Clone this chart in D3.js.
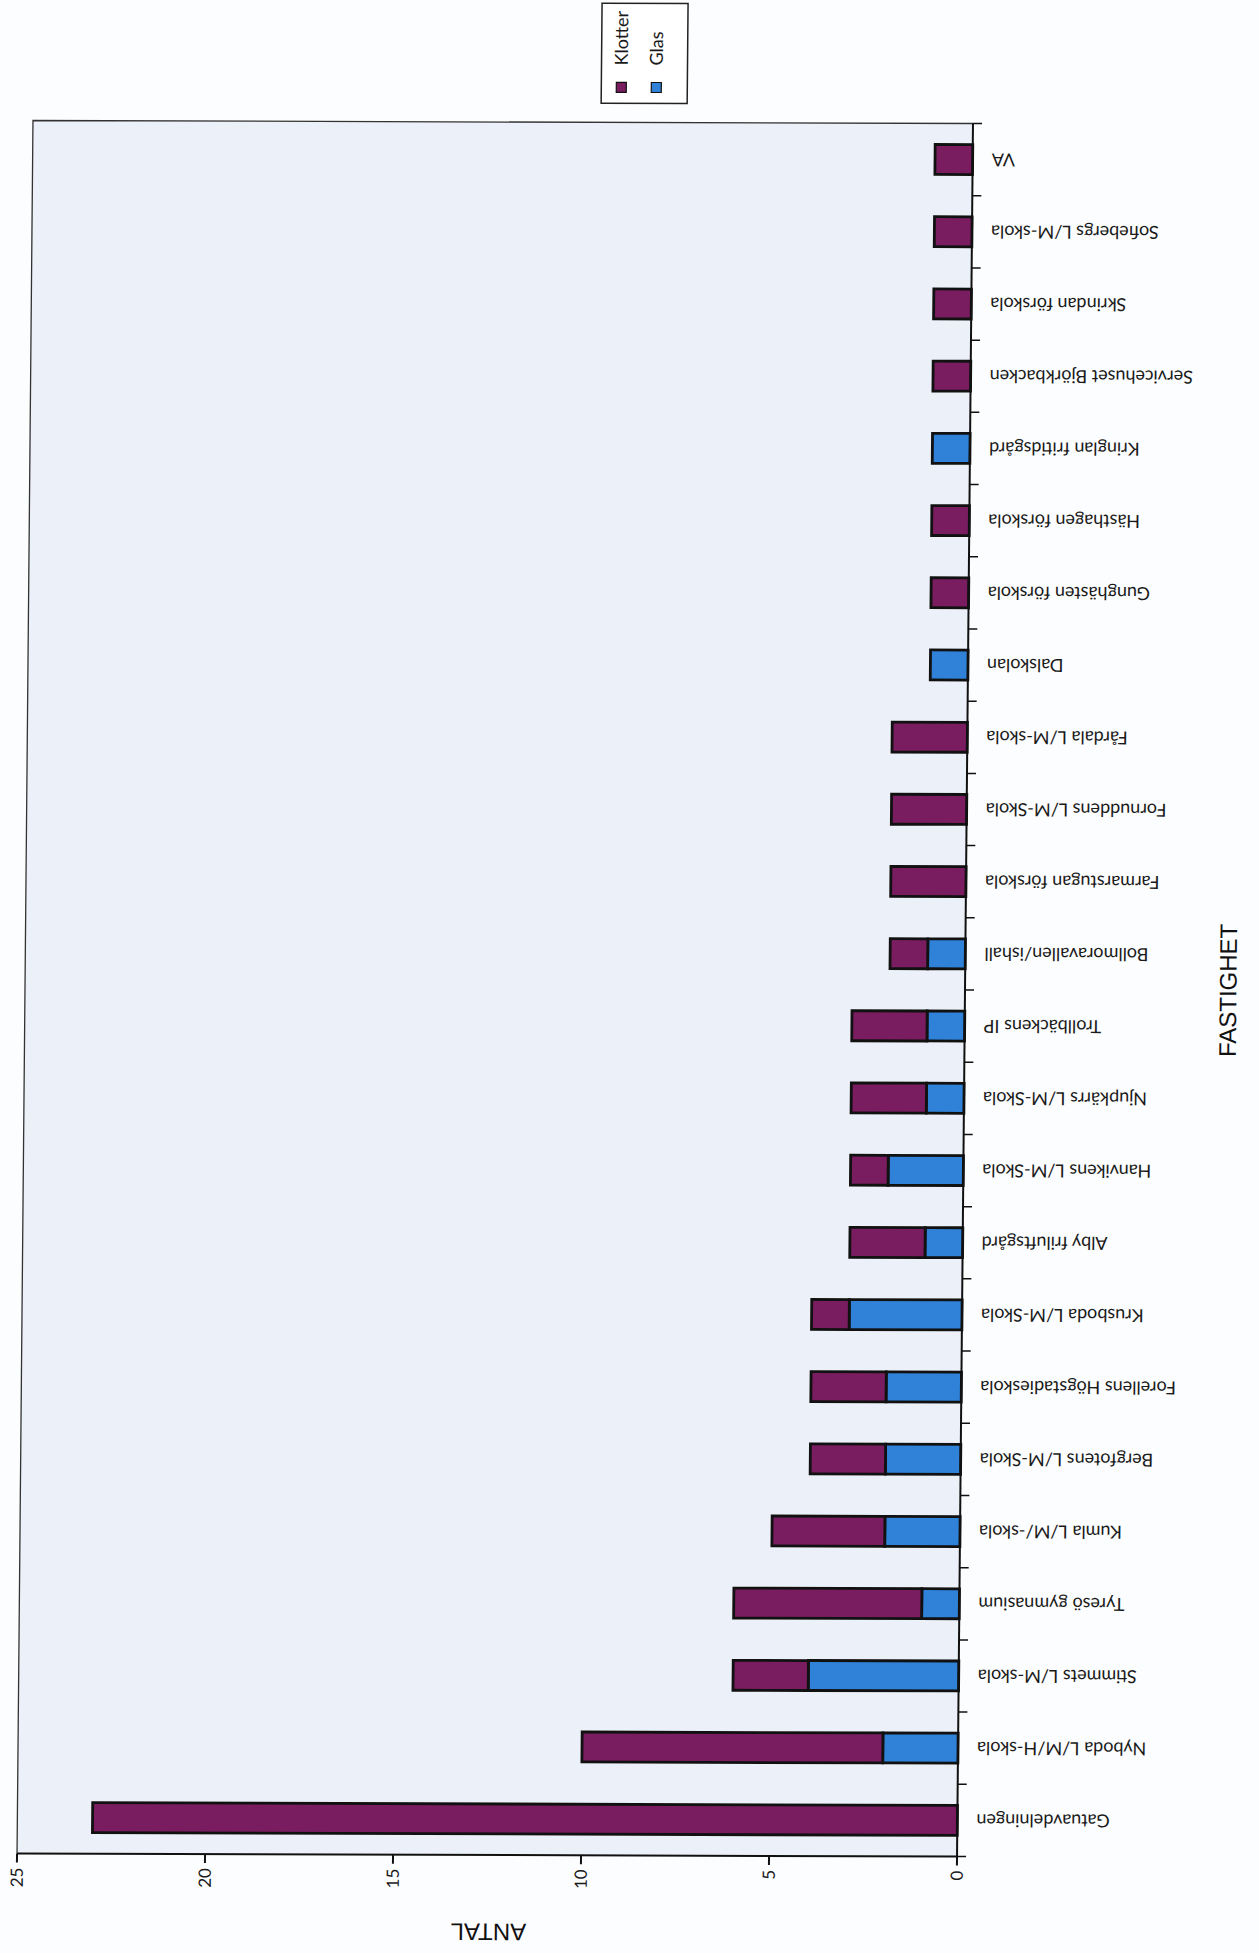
<!DOCTYPE html>
<html><head><meta charset="utf-8">
<script src="https://cdn.jsdelivr.net/npm/d3@7"></script>
<style>body{margin:0;background:#fcfdfe}svg{display:block}</style>
</head><body>
<svg id="c" width="1259" height="1953"></svg>
<script>
const categories = ["Gatuavdelningen","Nyboda L/M/H-skola","Stimmets L/M-skola","Tyresö gymnasium","Kumla L/M/-skola","Bergfotens L/M-Skola","Forellens Högstadieskola","Krusboda L/M-Skola","Alby friluftsgård","Hanvikens L/M-Skola","Njupkärrs L/M-Skola","Trollbäckens IP","Bollmoravallen/ishall","Farmarstugan förskola","Fornuddens L/M-Skola","Fårdala L/M-skola","Dalskolan","Gunghästen förskola","Hästhagen förskola","Kringlan fritidsgård","Servicehuset Björkbacken","Skrindan förskola","Sofiebergs L/M-skola","VA"];
const glas    = [0,2,4,1,2,2,2,3,1,2,1,1,1,0,0,0,1,0,0,1,0,0,0,0];
const klotter = [23,8,2,5,3,2,2,1,2,1,2,2,1,2,2,2,0,1,1,0,1,1,1,1];
const seriesNames = ["Klotter","Glas"];
const valueTicks = [0,5,10,15,20,25];
const colors = {Klotter:"#7a1d60", Glas:"#2f82d8"};

const W = 1733, H = 940;
const svg = d3.select("#c");
svg.append("rect").attr("width",1259).attr("height",1953).attr("fill","#fcfdfe");
const skew = svg.append("g").attr("transform","matrix(1,0.0032,-0.0092,1,9.1,-1.58)");
const g = skew.append("g").attr("transform","matrix(0,-1,1,0,25,1855)");

const rows = categories.map((c,i)=>({cat:c, Glas:glas[i], Klotter:klotter[i]}));
const x = d3.scaleBand().domain(categories).range([0,W]).paddingInner(0.585).paddingOuter(0.2925);
const y = d3.scaleLinear().domain([0,25]).range([H,0]);

// plot area
g.append("rect").attr("x",0).attr("y",0).attr("width",W).attr("height",H).attr("fill","#ecf0f8");
g.append("path").attr("d",`M0,0H${W}V${H}`).attr("fill","none").attr("stroke","#333").attr("stroke-width",1.3);

const stack = d3.stack().keys(["Glas","Klotter"])(rows);
stack.forEach(layer=>{
  g.append("g").selectAll("rect").data(layer.filter(d=>d[1]>d[0])).join("rect")
    .attr("x",d=>x(d.data.cat)).attr("width",x.bandwidth())
    .attr("y",d=>y(d[1])).attr("height",d=>y(d[0])-y(d[1]))
    .attr("fill",colors[layer.key]).attr("stroke","#111").attr("stroke-width",2.8);
});

// y axis (value)
const yAxis = g.append("g");
yAxis.append("line").attr("x1",0).attr("x2",0).attr("y1",0).attr("y2",H).attr("stroke","#111").attr("stroke-width",2);
yAxis.selectAll(".t").data(valueTicks).join("line").attr("x1",-9).attr("x2",0)
  .attr("y1",d=>y(d)).attr("y2",d=>y(d)).attr("stroke","#111").attr("stroke-width",2);
yAxis.selectAll("text").data(valueTicks).join("text").attr("x",-14).attr("y",d=>y(d))
  .attr("text-anchor","end").attr("dy","0.35em").attr("font-family","Lato, sans-serif").attr("font-size",17).attr("fill","#1a1a1a").text(d=>d);

// x axis (categories)
const xAxis = g.append("g");
xAxis.append("line").attr("x1",0).attr("x2",W).attr("y1",H).attr("y2",H).attr("stroke","#111").attr("stroke-width",2);
const bounds = categories.map(c=>x(c)-x.step()*x.paddingInner()/2).concat([W]);
xAxis.selectAll(".t").data(bounds).join("line").attr("x1",d=>d).attr("x2",d=>d)
  .attr("y1",H).attr("y2",H+9).attr("stroke","#111").attr("stroke-width",1.5);
xAxis.selectAll("text").data(categories).join("text")
  .attr("transform",d=>`translate(${x(d)+x.bandwidth()/2},${H+19}) rotate(-90)`)
  .attr("text-anchor","end").attr("dy","0.35em").attr("font-family","Lato, sans-serif").attr("font-size",18).attr("fill","#1a1a1a").text(d=>d);

// axis titles
g.append("text").attr("transform",`translate(-77,472) rotate(-90)`).attr("text-anchor","middle").attr("dy","0.35em")
  .attr("font-family","Liberation Sans, Arial, sans-serif").attr("font-size",24).attr("fill","#111").text("ANTAL");
g.append("text").attr("x",867).attr("y",1203).attr("text-anchor","middle").attr("dy","0.35em")
  .attr("font-family","Liberation Sans, Arial, sans-serif").attr("font-size",24).attr("fill","#111").text("FASTIGHET");

// legend
const lg = g.append("g");
lg.append("rect").attr("x",1752).attr("y",568).attr("width",100).attr("height",86).attr("fill","#fff").attr("stroke","#222").attr("stroke-width",1.5);
const items = lg.selectAll("g").data(seriesNames).join("g").attr("transform",(d,i)=>`translate(0,${588+i*35})`);
items.append("rect").attr("x",1763).attr("y",-5).attr("width",10).attr("height",10).attr("fill",d=>colors[d]).attr("stroke","#111").attr("stroke-width",1.2);
items.append("text").attr("x",1790).attr("dy","0.35em").attr("font-family","Lato, sans-serif").attr("font-size",18).attr("fill","#1a1a1a").text(d=>d);
</script>
</body></html>
